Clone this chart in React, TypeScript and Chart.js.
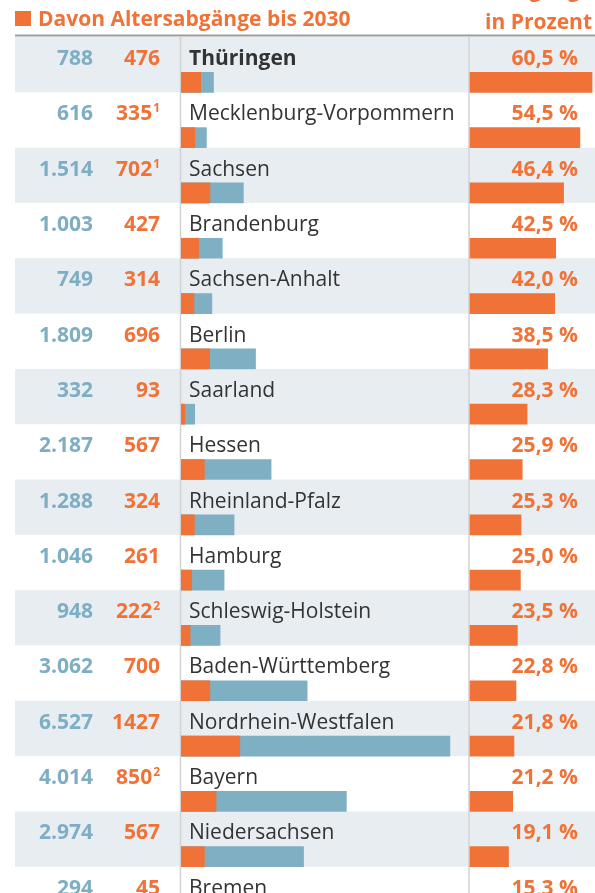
import React, { useEffect, useRef } from "react";
import { Chart, registerables } from "chart.js";

Chart.register(...registerables);

const states = [
  "Thüringen",
  "Mecklenburg-Vorpommern",
  "Sachsen",
  "Brandenburg",
  "Sachsen-Anhalt",
  "Berlin",
  "Saarland",
  "Hessen",
  "Rheinland-Pfalz",
  "Hamburg",
  "Schleswig-Holstein",
  "Baden-Württemberg",
  "Nordrhein-Westfalen",
  "Bayern",
  "Niedersachsen",
  "Bremen",
];
const totalLabels = [
  "788", "616", "1.514", "1.003", "749", "1.809", "332", "2.187",
  "1.288", "1.046", "948", "3.062", "6.527", "4.014", "2.974", "294",
];
const totals = [788, 616, 1514, 1003, 749, 1809, 332, 2187, 1288, 1046, 948, 3062, 6527, 4014, 2974, 294];
const retirements = [476, 335, 702, 427, 314, 696, 93, 567, 324, 261, 222, 700, 1427, 850, 567, 45];
const footnotes = ["", "1", "1", "", "", "", "", "", "", "", "2", "", "", "2", "", ""];
const percents = [60.5, 54.5, 46.4, 42.5, 42.0, 38.5, 28.3, 25.9, 25.3, 25.0, 23.5, 22.8, 21.8, 21.2, 19.1, 15.3];
const headerTitle = "Davon Altersabgänge bis 2030";
const headerRight = "in Prozent";
const headerRightAbove = "Altersabgänge";

const ORANGE = "#f07236";
const BLUE = "#7fafc2";
const BLUE_TEXT = "#7eaec3";
const DARK = "#333333";
const SHADE = "#e8edf1";
const FONT = "'Open Sans', sans-serif";

const W = 595;
const H = 922;
const TOP = 37;
const AREA_LEFT = 181;
const AREA_RIGHT = 593;
const PCT_LEFT = 470;
const PCT_MAX = 61;
const BAR_H = 20;
const MID_MAX = 10000;

const fmtPct = (v: number) => v.toFixed(1).replace(".", ",") + " %";

const tablePlugin = {
  id: "tablePlugin",
  beforeDatasetsDraw(chart: any) {
    const ctx = chart.ctx;
    const a = chart.chartArea;
    const n = states.length;
    const rowH = (a.bottom - a.top) / n;
    ctx.save();
    for (let i = 0; i < n; i++) {
      if (i % 2 === 0) {
        ctx.fillStyle = SHADE;
        ctx.fillRect(15, a.top + i * rowH, W - 15, rowH);
      }
    }
    ctx.strokeStyle = "#d2d2d2";
    ctx.lineWidth = 1.5;
    ctx.beginPath();
    ctx.moveTo(180.5, a.top);
    ctx.lineTo(180.5, a.bottom);
    ctx.moveTo(469, a.top);
    ctx.lineTo(469, a.bottom);
    ctx.stroke();
    ctx.strokeStyle = "#9c9c9c";
    ctx.lineWidth = 2;
    ctx.beginPath();
    ctx.moveTo(15, 35.5);
    ctx.lineTo(W, 35.5);
    ctx.stroke();
    ctx.fillStyle = ORANGE;
    ctx.fillRect(15, 11, 16, 15);
    ctx.font = `700 21px ${FONT}`;
    ctx.textBaseline = "alphabetic";
    ctx.textAlign = "left";
    ctx.fillText(headerTitle, 38, 26);
    ctx.textAlign = "right";
    ctx.fillText(headerRight, 592, 29);
    ctx.fillText(headerRightAbove, 592, -3);
    ctx.restore();
  },
  afterDatasetsDraw(chart: any) {
    const ctx = chart.ctx;
    const a = chart.chartArea;
    const n = states.length;
    const rowH = (a.bottom - a.top) / n;
    ctx.save();
    ctx.textBaseline = "alphabetic";
    for (let i = 0; i < n; i++) {
      const base = a.top + i * rowH + 28;
      ctx.font = `700 21px ${FONT}`;
      ctx.textAlign = "right";
      ctx.fillStyle = BLUE_TEXT;
      ctx.fillText(totalLabels[i], 93, base);
      ctx.fillStyle = ORANGE;
      let right = 160;
      if (footnotes[i]) {
        ctx.font = `700 12px ${FONT}`;
        ctx.fillText(footnotes[i], right, base - 8);
        right -= ctx.measureText(footnotes[i]).width + 1;
        ctx.font = `700 21px ${FONT}`;
      }
      ctx.fillText(String(retirements[i]), right, base);
      ctx.fillText(fmtPct(percents[i]), 578, base);
      ctx.textAlign = "left";
      ctx.fillStyle = DARK;
      ctx.font = `${i === 0 ? "700" : "400"} 21px ${FONT}`;
      ctx.fillText(states[i], 189, base);
    }
    ctx.restore();
  },
};

export default function App() {
  const ref = useRef<HTMLCanvasElement>(null);
  useEffect(() => {
    if (!ref.current) return;
    const n = states.length;
    const rowH = (H - TOP) / n;
    const yMin = -1 + BAR_H / 2 / rowH;
    const x2Min = (-PCT_MAX * (PCT_LEFT - AREA_LEFT)) / (AREA_RIGHT - PCT_LEFT);
    const chart = new Chart(ref.current, {
      type: "bar",
      data: {
        datasets: [
          {
            label: "Altersabgänge",
            data: retirements.map((v, i) => ({ x: v, y: i })),
            backgroundColor: ORANGE,
            xAxisID: "x",
            grouped: false,
            barThickness: BAR_H,
          },
          {
            label: "Gesamt",
            data: totals.map((v, i) => ({ x: v, y: i })),
            backgroundColor: BLUE,
            xAxisID: "x",
            grouped: false,
            barThickness: BAR_H,
          },
          {
            label: "in Prozent",
            data: percents.map((v, i) => ({ x: v, y: i })),
            backgroundColor: ORANGE,
            xAxisID: "x2",
            grouped: false,
            barThickness: BAR_H,
          },
        ] as any,
      },
      options: {
        indexAxis: "y",
        responsive: false,
        animation: false,
        layout: { padding: { left: AREA_LEFT, right: W - AREA_RIGHT, top: TOP, bottom: 0 } },
        plugins: { legend: { display: false }, tooltip: { enabled: false } },
        scales: {
          y: { type: "linear", reverse: true, offset: false, min: yMin, max: yMin + n, display: false },
          x: { type: "linear", offset: false, min: 0, max: MID_MAX, display: false },
          x2: { type: "linear", offset: false, min: x2Min, max: PCT_MAX, display: false },
        },
      } as any,
      plugins: [tablePlugin],
    });
    return () => chart.destroy();
  }, []);
  return (
    <div style={{ position: "absolute", left: 0, top: 0, width: W, height: 893, overflow: "hidden", background: "#fff" }}>
      <canvas ref={ref} width={W} height={H} style={{ display: "block" }} />
    </div>
  );
}
